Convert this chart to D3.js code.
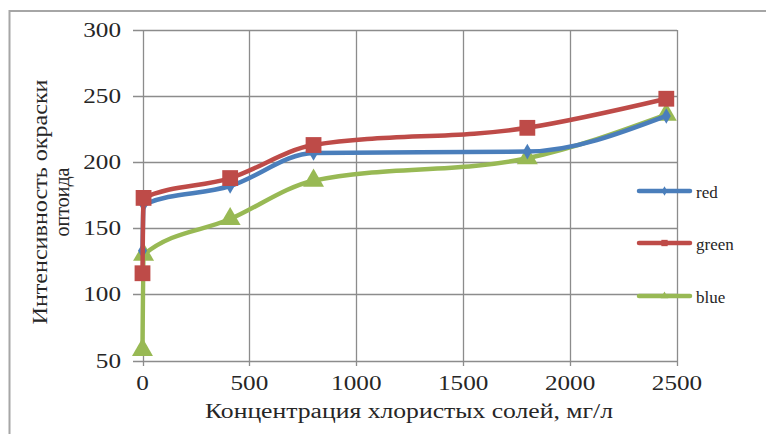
<!DOCTYPE html>
<html>
<head>
<meta charset="utf-8">
<script src="https://cdn.jsdelivr.net/npm/d3@7"></script>
<style>
  html, body { margin: 0; padding: 0; background: #fff; }
  svg text { font-family: "Liberation Serif", "Times New Roman", serif; fill: #262626; }
</style>
</head>
<body>
<svg id="chart" width="766" height="434"></svg>
<script>
// Salt concentration, mg/l
const concentration = [0, 5, 410, 800, 1800, 2450];
// Colour intensity per channel
const redValues   = [133, 168, 182, 207, 208, 235];
const greenValues = [116, 173, 188, 213, 226, 248];
const blueValues  = [58, 130, 157, 186, 203, 236];

const seriesNames  = ["red", "green", "blue"];
const seriesColors = ["#4A7EBB", "#BE4B48", "#98B954"];
const xTicks = [0, 500, 1000, 1500, 2000, 2500];
const yTicks = [50, 100, 150, 200, 250, 300];
const xTitle = "Концентрация хлористых солей, мг/л";
const yTitleLines = ["Интенсивность окраски", "оптоида"];

const series = [redValues, greenValues, blueValues].map((vals, i) => ({
  name: seriesNames[i],
  color: seriesColors[i],
  points: vals.map((v, j) => ({ x: concentration[j], y: v }))
}));

const svg = d3.select("#chart");
const W = 766, H = 434;
const plot = { left: 142.5, right: 677, top: 30, bottom: 360.5 };

svg.append("rect").attr("width", W).attr("height", H).attr("fill", "#fff");

// outer frame (top and left edges)
svg.append("path")
  .attr("d", `M9.5,${H} L9.5,11 L${W},11`)
  .attr("fill", "none").attr("stroke", "#a6a6a6").attr("stroke-width", 2);

const x = d3.scaleLinear().domain([0, 2500]).range([plot.left, plot.right]);
const y = d3.scaleLinear().domain([50, 300]).range([plot.bottom, plot.top]);

const gridColor = "#8c8c8c";

// horizontal gridlines, extended left as tick marks
svg.append("g").selectAll("line").data(yTicks).join("line")
  .attr("x1", plot.left - 9.5).attr("x2", plot.right)
  .attr("y1", d => Math.round(y(d)) + 0.5).attr("y2", d => Math.round(y(d)) + 0.5)
  .attr("stroke", gridColor).attr("stroke-width", 1.3);

// vertical gridlines, extended downward as tick marks
svg.append("g").selectAll("line").data(xTicks).join("line")
  .attr("x1", d => Math.round(x(d)) + 0.5).attr("x2", d => Math.round(x(d)) + 0.5)
  .attr("y1", plot.top).attr("y2", plot.bottom + 5.5)
  .attr("stroke", gridColor).attr("stroke-width", 1.3);

// tick labels
svg.append("g").selectAll("text").data(yTicks).join("text")
  .attr("x", 121).attr("y", d => y(d))
  .attr("dy", "0.35em").attr("text-anchor", "end")
  .attr("font-size", 20)
  .attr("textLength", d => String(d).length * 12.6)
  .attr("lengthAdjust", "spacingAndGlyphs")
  .text(d => d);

svg.append("g").selectAll("text").data(xTicks).join("text")
  .attr("x", d => x(d)).attr("y", 383)
  .attr("dy", "0.35em").attr("text-anchor", "middle")
  .attr("font-size", 20)
  .attr("textLength", d => String(d).length * 12.6)
  .attr("lengthAdjust", "spacingAndGlyphs")
  .text(d => d);

// axis titles
svg.append("text")
  .attr("x", 409).attr("y", 411).attr("dy", "0.35em")
  .attr("text-anchor", "middle").attr("font-size", 20)
  .attr("textLength", 408).attr("lengthAdjust", "spacingAndGlyphs")
  .text(xTitle);

const yTitle = svg.append("g").attr("transform", "translate(51,202) rotate(-90)");
yTitle.append("text")
  .attr("x", 0).attr("y", -11).attr("dy", "0.35em")
  .attr("text-anchor", "middle").attr("font-size", 20)
  .attr("textLength", 245).attr("lengthAdjust", "spacingAndGlyphs")
  .text(yTitleLines[0]);
yTitle.append("text")
  .attr("x", 0).attr("y", 11).attr("dy", "0.35em")
  .attr("text-anchor", "middle").attr("font-size", 20)
  .text(yTitleLines[1]);

// smoothed series lines
const line = d3.line()
  .x(d => x(d.x)).y(d => y(d.y))
  .curve(d3.curveMonotoneX);

const markerSymbols = [d3.symbolDiamond, d3.symbolSquare, d3.symbolTriangle];
const markerSizes = [70, 250, 190];

// draw lines back-to-front: blue channel, red channel, green channel
const order = [2, 0, 1];
order.forEach(i => {
  const s = series[i];
  const g = svg.append("g");
  g.append("path")
    .attr("d", line(s.points))
    .attr("fill", "none")
    .attr("stroke", s.color)
    .attr("stroke-width", 4.5)
    .attr("stroke-linejoin", "round")
    .attr("stroke-linecap", "round");
  g.selectAll("path.marker").data(s.points).join("path")
    .attr("class", "marker")
    .attr("transform", d => `translate(${x(d.x)},${y(d.y)})`)
    .attr("d", d3.symbol().type(markerSymbols[i]).size(markerSizes[i]))
    .attr("fill", s.color);
});

// legend
const legendY = [191, 243, 296];
const legend = svg.append("g");
series.forEach((s, i) => {
  const gy = legendY[i];
  legend.append("line")
    .attr("x1", 639).attr("x2", 690)
    .attr("y1", gy).attr("y2", gy)
    .attr("stroke", s.color).attr("stroke-width", 4.5)
    .attr("stroke-linecap", "round");
  legend.append("path")
    .attr("transform", `translate(664.5,${gy})`)
    .attr("d", d3.symbol().type(markerSymbols[i]).size(i === 1 ? 40 : 25))
    .attr("fill", s.color);
  legend.append("text")
    .attr("x", 696).attr("y", gy + 1).attr("dy", "0.35em")
    .attr("font-size", 17)
    .text(s.name);
});
</script>
</body>
</html>
